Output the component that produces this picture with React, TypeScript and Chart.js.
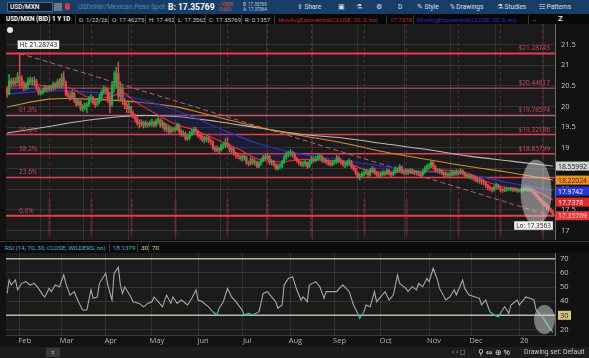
import React, { useEffect, useRef } from "react";
import { Chart, registerables } from "chart.js";
Chart.register(...registerables);

// ---------------- data ----------------
const FIRST_OPEN = 20.42;
// daily closes, 2025-01-24 .. 2026-01-23 (trading-day index 0..260)
const closes = [
  20.30, 20.62, 20.55, 20.62, 20.58, 20.72,
  20.68, 20.55, 20.45, 20.52, 20.62, 20.65, 20.60, 20.62, 20.45, 20.32, 20.34, 20.40, 20.45, 20.42, 20.48, 20.45, 20.55, 20.48, 20.60, 20.50,
  20.70, 20.60, 20.30, 20.25, 20.22, 20.32, 20.15, 20.05, 20.12, 19.95, 19.98, 20.02, 20.05, 20.18, 20.22, 20.10, 20.05, 20.12, 20.22, 20.35, 20.42,
  20.38, 20.20, 20.05, 20.50, 20.55, 20.80, 20.25, 20.45, 20.15, 20.05, 19.95, 20.00, 19.85, 19.78, 19.70, 19.60, 19.58, 19.62, 19.55, 19.60, 19.56, 19.60,
  19.62, 19.55, 19.65, 19.68, 19.55, 19.60, 19.45, 19.50, 19.40, 19.45, 19.44, 19.45, 19.55, 19.40, 19.32, 19.35, 19.22, 19.25, 19.35, 19.40, 19.45, 19.40,
  19.30, 19.28, 19.20, 19.22, 19.25, 19.18, 19.15, 19.00, 18.95, 18.98, 18.95, 19.05, 19.05, 19.12, 19.05, 18.95, 18.98, 18.88, 18.82, 18.80, 18.75,
  18.76, 18.80, 18.65, 18.62, 18.72, 18.65, 18.66, 18.55, 18.62, 18.70, 18.78, 18.75, 18.80, 18.65, 18.68, 18.60, 18.50, 18.55, 18.56, 18.65, 18.78, 18.85, 18.86,
  18.88, 18.85, 18.75, 18.70, 18.65, 18.60, 18.62, 18.65, 18.55, 18.65, 18.75, 18.70, 18.72, 18.78, 18.80, 18.70, 18.70, 18.66, 18.65, 18.60, 18.65,
  18.66, 18.76, 18.70, 18.66, 18.60, 18.60, 18.64, 18.68, 18.55, 18.50, 18.40, 18.30, 18.32, 18.36, 18.40, 18.42, 18.35, 18.45, 18.50, 18.40, 18.35, 18.34,
  18.36, 18.40, 18.38, 18.45, 18.38, 18.35, 18.40, 18.50, 18.45, 18.55, 18.42, 18.40, 18.45, 18.40, 18.45, 18.44, 18.40, 18.40, 18.38, 18.34, 18.42, 18.50, 18.55,
  18.56, 18.65, 18.55, 18.46, 18.45, 18.45, 18.40, 18.35, 18.36, 18.34, 18.36, 18.42, 18.36, 18.42, 18.40, 18.45, 18.40, 18.32, 18.32, 18.30,
  18.30, 18.28, 18.24, 18.20, 18.22, 18.18, 18.15, 18.10, 18.04, 18.02, 17.98, 18.05, 18.10, 18.04, 17.98, 17.97, 17.99, 18.00, 18.00, 18.02, 17.98, 18.00, 17.96,
  17.96, 17.98, 18.00, 18.02, 17.98, 17.99, 17.97, 17.90, 17.84, 17.78, 17.72, 17.66, 17.64, 17.58, 17.52, 17.46275, 17.35769,
];
const highs = [
  20.48, 20.78, 20.68, 20.70, 20.70, 20.82,
  21.29, 20.75, 20.62, 20.58, 20.70, 20.72, 20.70, 20.72, 20.66, 20.48, 20.40, 20.45, 20.52, 20.50, 20.52, 20.52, 20.60, 20.58, 20.66, 20.68,
  20.80, 20.85, 20.62, 20.38, 20.35, 20.40, 20.35, 20.18, 20.20, 20.15, 20.05, 20.08, 20.10, 20.25, 20.30, 20.25, 20.15, 20.20, 20.30, 20.40, 20.50,
  20.48, 20.45, 20.35, 20.60, 20.85, 20.95, 21.08, 20.60, 20.50, 20.20, 20.10, 20.10, 20.00, 19.90, 19.82, 19.75, 19.68, 19.68, 19.65, 19.66, 19.62, 19.66,
  19.70, 19.65, 19.70, 19.75, 19.72, 19.68, 19.62, 19.58, 19.55, 19.52, 19.50, 19.52, 19.60, 19.58, 19.45, 19.42, 19.38, 19.30, 19.40, 19.45, 19.50, 19.50,
  19.42, 19.35, 19.32, 19.28, 19.30, 19.28, 19.22, 19.18, 19.05, 19.05, 19.02, 19.10, 19.12, 19.22, 19.26, 19.10, 19.02, 19.00, 18.90, 18.88, 18.82,
  18.82, 18.85, 18.80, 18.68, 18.78, 18.75, 18.72, 18.68, 18.68, 18.75, 18.82, 18.85, 18.86, 18.82, 18.72, 18.70, 18.62, 18.60, 18.62, 18.70, 18.82, 18.90, 18.92,
  18.96, 18.92, 18.88, 18.78, 18.72, 18.68, 18.68, 18.70, 18.66, 18.70, 18.80, 18.78, 18.80, 18.84, 18.86, 18.82, 18.76, 18.74, 18.72, 18.68, 18.70,
  18.70, 18.82, 18.80, 18.74, 18.70, 18.66, 18.70, 18.74, 18.70, 18.58, 18.52, 18.42, 18.38, 18.42, 18.45, 18.48, 18.45, 18.50, 18.55, 18.52, 18.44, 18.40,
  18.42, 18.45, 18.44, 18.50, 18.48, 18.42, 18.46, 18.55, 18.52, 18.60, 18.56, 18.46, 18.50, 18.48, 18.50, 18.50, 18.46, 18.45, 18.44, 18.40, 18.48, 18.56, 18.60,
  18.62, 18.70, 18.68, 18.58, 18.50, 18.50, 18.48, 18.42, 18.42, 18.40, 18.42, 18.46, 18.44, 18.48, 18.46, 18.50, 18.47, 18.42, 18.36, 18.36,
  18.36, 18.34, 18.32, 18.28, 18.26, 18.25, 18.22, 18.18, 18.12, 18.08, 18.05, 18.08, 18.15, 18.12, 18.06, 18.02, 18.04, 18.03, 18.02, 18.05, 18.04, 18.04, 18.02,
  17.99, 18.02, 18.05, 18.06, 18.05, 18.04, 18.02, 17.99, 17.92, 17.86, 17.80, 17.74, 17.70, 17.66, 17.60, 17.55, 17.492,
];
const lows = [
  20.22, 20.28, 20.50, 20.52, 20.52, 20.55,
  20.45, 20.45, 20.38, 20.40, 20.42, 20.55, 20.52, 20.50, 20.40, 20.28, 20.28, 20.30, 20.35, 20.35, 20.38, 20.38, 20.40, 20.42, 20.45, 20.45,
  20.45, 20.50, 20.25, 20.20, 20.15, 20.18, 20.10, 20.00, 20.02, 19.90, 19.88, 19.92, 19.85, 20.00, 20.10, 20.05, 19.98, 20.02, 20.08, 20.15, 20.30,
  20.30, 20.10, 19.85, 20.00, 20.35, 20.45, 20.15, 20.15, 20.05, 19.95, 19.85, 19.85, 19.75, 19.72, 19.62, 19.55, 19.48, 19.52, 19.48, 19.50, 19.50, 19.52,
  19.52, 19.50, 19.52, 19.58, 19.50, 19.48, 19.40, 19.38, 19.35, 19.35, 19.38, 19.38, 19.42, 19.35, 19.28, 19.28, 19.18, 19.18, 19.20, 19.30, 19.35, 19.35,
  19.25, 19.20, 19.15, 19.12, 19.15, 19.12, 19.08, 18.95, 18.90, 18.90, 18.88, 18.92, 18.98, 19.00, 19.00, 18.90, 18.88, 18.82, 18.75, 18.74, 18.70,
  18.68, 18.70, 18.60, 18.56, 18.58, 18.60, 18.58, 18.52, 18.52, 18.58, 18.66, 18.70, 18.72, 18.60, 18.58, 18.55, 18.47, 18.46, 18.50, 18.52, 18.62, 18.72, 18.78,
  18.80, 18.78, 18.70, 18.65, 18.58, 18.55, 18.54, 18.55, 18.50, 18.52, 18.62, 18.65, 18.66, 18.70, 18.72, 18.65, 18.64, 18.60, 18.58, 18.55, 18.56,
  18.60, 18.62, 18.65, 18.60, 18.55, 18.52, 18.55, 18.58, 18.50, 18.45, 18.35, 18.26, 18.22, 18.28, 18.32, 18.35, 18.30, 18.32, 18.40, 18.36, 18.30, 18.28,
  18.30, 18.32, 18.32, 18.35, 18.34, 18.30, 18.32, 18.38, 18.40, 18.42, 18.38, 18.35, 18.36, 18.35, 18.38, 18.38, 18.35, 18.34, 18.32, 18.30, 18.32, 18.38, 18.45,
  18.48, 18.52, 18.50, 18.42, 18.40, 18.38, 18.35, 18.30, 18.30, 18.28, 18.30, 18.32, 18.32, 18.34, 18.34, 18.36, 18.35, 18.28, 18.28, 18.26,
  18.24, 18.22, 18.18, 18.16, 18.14, 18.12, 18.10, 18.04, 17.98, 17.96, 17.93, 17.95, 18.00, 18.00, 17.94, 17.92, 17.94, 17.95, 17.97, 17.96, 17.94, 17.95, 17.92,
  17.93, 17.92, 17.94, 17.96, 17.94, 17.94, 17.92, 17.86, 17.80, 17.74, 17.68, 17.62, 17.58, 17.52, 17.46, 17.42, 17.3563,
];

// moving averages, read at every 20th trading day
const maDays = [0, 20, 40, 60, 80, 100, 120, 140, 160, 180, 200, 220, 240, 260];
const maGrey = [19.36, 19.52, 19.68, 19.78, 19.76, 19.64, 19.48, 19.33, 19.24, 19.10, 18.96, 18.80, 18.68, 18.55992];
const maOrange = [19.99, 20.18, 20.18, 20.12, 20.00, 19.75, 19.50, 19.30, 19.12, 18.90, 18.72, 18.55, 18.40, 18.22024];
const maBlue = [20.30, 20.38, 20.35, 20.22, 19.92, 19.50, 19.10, 18.85, 18.70, 18.55, 18.42, 18.35, 18.15, 17.9742];
const emaDays = [0, 10, 20, 30, 40, 50, 55, 60, 70, 80, 90, 100, 110, 120, 130, 140, 150, 160, 170, 180, 190, 200, 210, 220, 230, 240, 250, 255, 260];
const ema20 = [20.45, 20.55, 20.48, 20.45, 20.20, 20.25, 20.35, 20.15, 19.85, 19.58, 19.42, 19.20, 18.98, 18.72, 18.66, 18.72, 18.70, 18.67, 18.48, 18.40, 18.42, 18.43, 18.46, 18.38, 18.15, 18.02, 17.98, 17.88, 17.7378];

const trendDays = [6, 260];
const trendValues = [21.29, 17.34];

const fibLevels = [21.28743, 20.44617, 19.78574, 19.32186, 18.85799, 18.28397, 17.3563];
const fibLeftLabels = ["", "", "61.8%", "50.0%", "38.2%", "23.6%", "0.0%"];
const fibRightLabels = ["$21.28743", "$20.44617", "$19.78574", "$19.32186", "$18.85799", "", ""];

const expiryDays = [20, 40, 59, 80, 105, 124, 145, 170, 190, 215, 235, 255];
const monthDays = [6, 26, 47, 69, 91, 112, 135, 156, 178, 201, 221, 244];
const monthLabels = ["Feb", "Mar", "Apr", "May", "Jun", "Jul", "Aug", "Sep", "Oct", "Nov", "Dec", "26"];
const priceTicks = [17, 17.5, 18, 18.5, 19, 19.5, 20, 20.5, 21, 21.5];

const markerValues = [18.55992, 18.22024, 17.9742, 17.7378, 17.35769];
const markerLabels = ["18.55992", "18.22024", "17.9742", "17.7378", "17.35769"];
const markerBg = ["#d2d2d2", "#ec8f25", "#2536d6", "#e02a2a", "#e03a3a"];
const markerFg = ["#1a1a1a", "#4a2200", "#ffffff", "#ffffff", "#ffe0e0"];

const rsiDays = [0, 1, 2, 4, 5, 7, 9, 11, 13, 15, 17, 18, 20, 21, 23, 25, 27, 28, 30, 32, 34, 36, 38, 40, 41, 43, 44, 47, 48, 50, 51, 53, 54, 55, 56, 59, 60, 63, 65, 67, 69, 70, 72, 74, 76, 78, 79, 81, 83, 86, 88, 90, 91, 93, 96, 98, 100, 101, 103, 105, 107, 109, 112, 113, 115, 117, 120, 122, 124, 126, 128, 129, 131, 132, 134, 136, 138, 140, 141, 143, 144, 147, 149, 151, 152, 155, 157, 159, 160, 163, 165, 167, 168, 170, 171, 173, 175, 176, 178, 180, 182, 184, 186, 187, 190, 191, 193, 195, 196, 198, 200, 201, 202, 203, 205, 206, 209, 211, 213, 214, 217, 218, 220, 223, 225, 226, 228, 230, 232, 234, 236, 237, 239, 240, 243, 244, 246, 247, 249, 251, 252, 255, 257, 258, 260];
const rsiValues = [45.5, 55, 51.4, 55, 48, 52.6, 53.8, 51.4, 52.6, 49, 44.3, 43, 49, 46.7, 51.4, 50.2, 58.5, 52.6, 44.3, 46.7, 39.6, 33.7, 33.7, 48, 42, 43, 52.6, 59.7, 51.4, 40.8, 59.7, 63.9, 51.4, 45.5, 50.2, 43, 39.6, 38.4, 36, 38.4, 39.6, 43, 39.6, 36, 44.3, 38.4, 43, 38.4, 40.8, 37.3, 42, 48, 40.8, 39.6, 36, 32.5, 30.2, 35, 39.6, 49, 43, 39.6, 33.7, 30.2, 31.4, 30.2, 32.5, 45.5, 46.7, 43, 39.6, 35, 37.3, 51.4, 56.1, 57.3, 48, 40.8, 43, 39.6, 51.4, 53.8, 50.2, 42, 46.7, 46.7, 46.7, 50.2, 51.4, 46.7, 37.3, 31.4, 27.9, 32.5, 37.3, 36, 46.7, 39.6, 43, 46.7, 40.8, 44.3, 58.5, 52.6, 49, 46.7, 50.2, 48, 52.6, 50.2, 56.1, 53.8, 58.5, 63.2, 55, 49, 40.8, 43, 48, 44.3, 55, 49, 44.3, 43, 42, 37.3, 40.8, 32.5, 30.2, 29, 33.7, 36, 31.4, 37.3, 40.8, 37.3, 40.8, 43, 42, 40.8, 33.7, 29, 24.3, 22, 18.1379];
const rsiTicks = [20, 30, 40, 50, 60, 70];
const rsiLevels = [70, 30];

// ---------------- component ----------------
const FONT = '"Open Sans", "DejaVu Sans", sans-serif';
const UI = 'Roboto, "Open Sans", sans-serif';
const X_MIN = -0.5;
const X_MAX = 261;

export default function App() {
  const priceRef = useRef<HTMLCanvasElement>(null);
  const rsiRef = useRef<HTMLCanvasElement>(null);

  useEffect(() => {
    document.body.style.margin = "0";
    document.body.style.background = "#121212";
    Chart.defaults.font.family = FONT;

    const opens = closes.map((c, i) => (i === 0 ? FIRST_OPEN : closes[i - 1]));
    const idx = closes.map((_, i) => i);
    const up = "#21ad45";
    const down = "#e8434e";
    const candleColor = (c: any) => (closes[c.dataIndex] >= opens[c.dataIndex] ? up : down);
    const hline = (v: number) => [{ x: X_MIN, y: v }, { x: X_MAX, y: v }];
    const pts = (days: number[], vals: number[]) => days.map((d, k) => ({ x: d, y: vals[k] }));

    const bgPlugin = {
      id: "plotBg",
      beforeDraw(chart: any) {
        const { ctx, chartArea: a } = chart;
        ctx.save();
        ctx.fillStyle = "#1b1b1b";
        ctx.fillRect(a.left, a.top, a.right - a.left, a.bottom - a.top);
        ctx.restore();
      },
    };

    const expiryPlugin = {
      id: "expiry",
      beforeDatasetsDraw(chart: any) {
        const { ctx, chartArea: a, scales } = chart;
        ctx.save();
        expiryDays.forEach((d) => {
          const x = Math.round(scales.x.getPixelForValue(d)) + 0.5;
          ctx.strokeStyle = "rgba(140,38,52,0.75)";
          ctx.lineWidth = 1;
          ctx.setLineDash([3, 3]);
          ctx.beginPath();
          ctx.moveTo(x, a.top);
          ctx.lineTo(x, a.bottom);
          ctx.stroke();
          ctx.setLineDash([]);
          ctx.fillStyle = "rgba(170,45,58,0.28)";
          const y1 = scales.y.getPixelForValue(17.75);
          const y2 = scales.y.getPixelForValue(16.9);
          ctx.fillRect(x - 1.5, y1, 3, y2 - y1);
        });
        ctx.restore();
      },
    };

    const bubble = (ctx: any, text: string, x: number, y: number, alignRight: boolean) => {
      ctx.font = `6.5px ${FONT}`;
      const w = ctx.measureText(text).width + 4;
      const left = alignRight ? x - w : x;
      ctx.fillStyle = "#f2f2f2";
      ctx.fillRect(left, y, w, 8.5);
      ctx.fillStyle = "#222";
      ctx.textAlign = "left";
      ctx.fillText(text, left + 2, y + 6.5);
    };

    const annotPlugin = {
      id: "annot",
      afterDatasetsDraw(chart: any) {
        const { ctx, chartArea: a, scales } = chart;
        const xs = scales.x;
        const ys = scales.y;
        ctx.save();
        ctx.font = `6.5px ${FONT}`;
        fibLevels.forEach((v, k) => {
          const y = ys.getPixelForValue(v);
          if (fibLeftLabels[k]) {
            ctx.fillStyle = "#d24a5e";
            ctx.textAlign = "left";
            ctx.fillText(fibLeftLabels[k], 19, y - 3);
          }
          if (fibRightLabels[k]) {
            ctx.fillStyle = "#d24a5e";
            ctx.textAlign = "right";
            ctx.fillText(fibRightLabels[k], 550, y - 3);
          }
        });
        bubble(ctx, "Hi: 21.28743", xs.getPixelForValue(6) - 2, ys.getPixelForValue(fibLevels[0]) - 13, false);
        ctx.fillStyle = "rgba(215,215,215,0.5)";
        ctx.beginPath();
        ctx.ellipse(xs.getPixelForValue(252), ys.getPixelForValue(17.92), 15.5, 33, 0, 0, Math.PI * 2);
        ctx.fill();
        bubble(ctx, "Lo: 17.3563", xs.getPixelForValue(260), ys.getPixelForValue(fibLevels[6]) + 5.5, true);
        let prev = -100;
        ctx.font = `6.8px ${FONT}`;
        markerValues.forEach((v, k) => {
          let y = ys.getPixelForValue(v);
          if (y < prev + 11) y = prev + 11;
          prev = y;
          ctx.fillStyle = markerBg[k];
          ctx.fillRect(a.right + 1, y - 4.5, 33, 9);
          ctx.fillStyle = markerFg[k];
          ctx.textAlign = "left";
          ctx.fillText(markerLabels[k], a.right + 3, y + 2.5);
        });
        ctx.restore();
      },
    };

    const price = new Chart(priceRef.current as HTMLCanvasElement, {
      type: "line",
      data: {
        datasets: [
          {
            type: "bar",
            label: "body",
            data: idx.map((i) => ({ x: i, y: [opens[i], closes[i]] })),
            backgroundColor: candleColor,
            barThickness: 1.7,
            grouped: false,
            minBarLength: 1,
            order: 1,
          } as any,
          {
            type: "bar",
            label: "wick",
            data: idx.map((i) => ({ x: i, y: [lows[i], highs[i]] })),
            backgroundColor: candleColor,
            barThickness: 0.8,
            grouped: false,
            order: 2,
          } as any,
          {
            label: "EMA20",
            data: pts(emaDays, ema20),
            borderColor: "#ec2f38",
            borderWidth: 1.1,
            pointRadius: 0,
            tension: 0.35,
            order: 3,
          },
          {
            label: "blue",
            data: pts(maDays, maBlue),
            borderColor: "#2b35c8",
            borderWidth: 1.1,
            pointRadius: 0,
            tension: 0.35,
            fill: { target: 2 },
            backgroundColor: "rgba(35,35,150,0.22)",
            order: 4,
          },
          {
            label: "orange",
            data: pts(maDays, maOrange),
            borderColor: "#d98a2a",
            borderWidth: 1.1,
            pointRadius: 0,
            tension: 0.35,
            order: 4,
          },
          {
            label: "grey",
            data: pts(maDays, maGrey),
            borderColor: "#b9b9b9",
            borderWidth: 1.1,
            pointRadius: 0,
            tension: 0.35,
            order: 4,
          },
          {
            label: "trend",
            data: pts(trendDays, trendValues),
            borderColor: "#c65a78",
            borderWidth: 1,
            borderDash: [5, 3],
            pointRadius: 0,
            order: 5,
          },
          ...fibLevels.map((v, k) => ({
            label: "fib" + k,
            data: hline(v),
            borderColor: k === 0 || k === 6 ? "#ea3a4c" : k === 1 || k === 2 ? "#c05a6e" : "#dc4256",
            borderWidth: k === 0 || k === 6 ? 2 : k === 1 ? 1 : 1.5,
            pointRadius: 0,
            order: 6,
          })),
        ],
      },
      options: {
        responsive: false,
        animation: false,
        events: [],
        layout: { padding: { left: 6, right: 0, top: 0, bottom: 0 } },
        plugins: { legend: { display: false }, tooltip: { enabled: false } },
        scales: {
          x: {
            type: "linear",
            min: X_MIN,
            max: X_MAX,
            offset: false,
            afterBuildTicks: (s: any) => {
              s.ticks = monthDays.map((v) => ({ value: v }));
            },
            ticks: { display: false },
            grid: { color: "rgba(255,255,255,0.10)", drawTicks: false },
            border: { display: false },
            afterFit: (s: any) => {
              s.height = 0;
            },
          },
          y: {
            position: "right",
            min: 16.77,
            max: 22.0,
            stacked: false,
            afterBuildTicks: (s: any) => {
              s.ticks = priceTicks.map((v) => ({ value: v }));
            },
            ticks: {
              color: "#c4c4c4",
              font: { size: 7.5, family: FONT },
              padding: 6,
              callback: (v: any) => (Number(v) % 1 === 0 ? String(v) : Number(v).toFixed(1)),
            },
            grid: { color: "rgba(255,255,255,0.10)", drawTicks: false },
            border: { display: true, color: "#6a6a6a" },
            afterFit: (s: any) => {
              s.width = 34;
              s.paddingTop = 0;
              s.paddingBottom = 0;
            },
          },
        },
      } as any,
      plugins: [bgPlugin, expiryPlugin, annotPlugin],
    });

    const rsiAnnot = {
      id: "rsiAnnot",
      afterDraw(chart: any) {
        const { ctx, chartArea: a, scales } = chart;
        ctx.save();
        ctx.fillStyle = "rgba(215,215,215,0.5)";
        ctx.beginPath();
        ctx.ellipse(scales.x.getPixelForValue(256), scales.y.getPixelForValue(27), 10.5, 14.5, 0, 0, Math.PI * 2);
        ctx.fill();
        const y30 = scales.y.getPixelForValue(30);
        ctx.fillStyle = "#d9c487";
        ctx.fillRect(a.right + 3, y30 - 4.5, 13, 9);
        ctx.fillStyle = "#2a2200";
        ctx.font = `7.5px ${FONT}`;
        ctx.textAlign = "left";
        ctx.fillText("30", a.right + 5, y30 + 2.7);
        ctx.restore();
      },
    };

    const rsi = new Chart(rsiRef.current as HTMLCanvasElement, {
      type: "line",
      data: {
        datasets: [
          {
            label: "RSI",
            data: pts(rsiDays, rsiValues),
            borderColor: "#a8a8a8",
            borderWidth: 1.1,
            pointRadius: 0,
            segment: {
              borderColor: (c: any) => (Math.min(c.p0.parsed.y, c.p1.parsed.y) < 30.5 ? "#39c6c9" : undefined),
            },
            order: 1,
          } as any,
          ...rsiLevels.map((v) => ({
            label: "lvl" + v,
            data: hline(v),
            borderColor: "#bdb9a0",
            borderWidth: 1.5,
            pointRadius: 0,
            order: 2,
          })),
        ],
      },
      options: {
        responsive: false,
        animation: false,
        events: [],
        layout: { padding: { left: 6, right: 0, top: 0, bottom: 0 } },
        plugins: { legend: { display: false }, tooltip: { enabled: false } },
        scales: {
          x: {
            type: "linear",
            min: X_MIN,
            max: X_MAX,
            offset: false,
            afterBuildTicks: (s: any) => {
              s.ticks = monthDays.map((v) => ({ value: v }));
            },
            ticks: {
              autoSkip: false,
              maxRotation: 0,
              color: "#b4b4b4",
              font: { size: 7.5, family: FONT },
              padding: 1,
              labelOffset: 5,
              callback: (v: any) => {
                const k = monthDays.indexOf(Number(v));
                return k >= 0 ? monthLabels[k] : "";
              },
            },
            grid: { color: "rgba(255,255,255,0.10)", drawTicks: false },
            border: { display: true, color: "#3a3a3a" },
            afterFit: (s: any) => {
              s.height = 12;
              s.paddingLeft = 0;
              s.paddingRight = 0;
            },
          },
          y: {
            position: "right",
            min: 16.08,
            max: 74.03,
            afterBuildTicks: (s: any) => {
              s.ticks = rsiTicks.map((v) => ({ value: v }));
            },
            ticks: { color: "#c4c4c4", font: { size: 7.5, family: FONT }, padding: 5 },
            grid: { color: "rgba(255,255,255,0.10)", drawTicks: false },
            border: { display: true, color: "#6a6a6a" },
            afterFit: (s: any) => {
              s.width = 34;
              s.paddingTop = 0;
              s.paddingBottom = 0;
            },
          },
        },
      } as any,
      plugins: [bgPlugin, rsiAnnot],
    });

    return () => {
      price.destroy();
      rsi.destroy();
    };
  }, []);

  const abs = (l: number, t: number, extra: any = {}) => ({ position: "absolute" as const, left: l, top: t, whiteSpace: "nowrap" as const, ...extra });
  const infoBox = { borderLeft: "1px solid #3a3a3a", height: 9, lineHeight: "9px", color: "#c8c8c8", fontSize: 6, fontFamily: UI, paddingLeft: 3 };
  const tb = { color: "#d8e2ec", fontSize: 6.5, lineHeight: "10px", fontFamily: UI };
  const rsiHead = { fontSize: 6.2, lineHeight: "8px", fontFamily: UI };

  return (
    <div style={{ position: "relative", width: 589, height: 358, background: "#121212", overflow: "hidden", fontFamily: FONT }}>
      {/* top toolbar */}
      <div style={abs(0, 0, { width: 589, height: 14, background: "#173e66" })} />
      <div style={abs(7, 2, { width: 46, height: 10, background: "#0f1c2a", border: "1px solid #4a6888", boxSizing: "border-box" })} />
      <div style={abs(10, 2, { color: "#e8eef4", fontSize: 6.5, lineHeight: "10px", fontWeight: 600, fontFamily: UI })}>USD/MXN</div>
      <div style={abs(54, 3, { width: 8, height: 8, background: "#6c7a88" })} />
      <div style={abs(65, 3, { width: 5, height: 7, background: "#d83a3a", borderRadius: 2 })} />
      <div style={abs(78, 2, { color: "#5e86ad", fontSize: 6.8, lineHeight: "10px", fontFamily: UI })}>USDollar/Mexican Peso Spot</div>
      <div style={abs(168, 1, { color: "#ffffff", fontSize: 8.5, lineHeight: "12px", fontWeight: 700, fontFamily: UI })}>B: 17.35769</div>
      <div style={abs(218, 1.5, { color: "#e05050", fontSize: 4.5, lineHeight: "5.5px", fontFamily: UI })}>-.10506<br />-0.60%</div>
      <div style={abs(243, 1.5, { color: "#c0d0e0", fontSize: 4.5, lineHeight: "5.5px", fontFamily: UI })}>B: 17.35769<br />A: 17.37064</div>
      <div style={abs(297, 2, tb)}>⇪ Share</div>
      <div style={abs(338, 2, tb)}>▣</div>
      <div style={abs(356, 2, tb)}>⚗</div>
      <div style={abs(376, 2, tb)}>⚙</div>
      <div style={abs(398, 2, tb)}>D</div>
      <div style={abs(417, 2, tb)}>✎ Style</div>
      <div style={abs(450, 2, tb)}>% Drawings</div>
      <div style={abs(497, 2, tb)}>⚗ Studies</div>
      <div style={abs(539, 2, tb)}>☷ Patterns</div>

      {/* info strip */}
      <div style={abs(0, 14, { width: 589, height: 10, background: "#070707" })} />
      <div style={abs(6, 14.5, { color: "#ffffff", fontSize: 6.3, lineHeight: "9px", fontWeight: 700, fontFamily: UI })}>USD/MXN (BID) 1 Y 1D</div>
      <div style={abs(75, 14.5, infoBox)}>D: 1/23/26</div>
      <div style={abs(108, 14.5, infoBox)}>O: 17.46275</div>
      <div style={abs(145, 14.5, infoBox)}>H: 17.492</div>
      <div style={abs(174, 14.5, infoBox)}>L: 17.3563</div>
      <div style={abs(205, 14.5, infoBox)}>C: 17.35769</div>
      <div style={abs(241, 14.5, infoBox)}>R: 0.1357</div>
      <div style={abs(274, 14.5, { ...infoBox, color: "#c0282c" })}>MovAvgExponential(CLOSE, 20, 0, no)</div>
      <div style={abs(386, 14.5, { ...infoBox, color: "#c0282c" })}>17.7378</div>
      <div style={abs(413, 14.5, { ...infoBox, color: "#2a2ec0" })}>MovAvgExponential(CLOSE, 50, 0, no)</div>
      <div style={abs(528, 14.5, { ...infoBox, color: "#777" })}>—</div>
      <div style={abs(558, 13.5, { color: "#e0e0e0", fontSize: 8, lineHeight: "10px", fontWeight: 700, fontFamily: UI })}>Z</div>

      {/* price panel */}
      <canvas ref={priceRef} width={589} height={216} style={{ position: "absolute", left: 0, top: 24 }} />
      <div style={abs(7, 27, { width: 6, height: 6, borderRadius: 3, background: "#e8e8e8" })} />

      {/* separator + RSI header */}
      <div style={abs(0, 240, { width: 589, height: 13, background: "#0b0b0b" })} />
      <div style={abs(0, 241, { width: 589, height: 1, background: "#3c3c3c" })} />
      <div style={abs(5, 244, { ...rsiHead, color: "#3cb6c6" })}>RSI (14, 70, 30, CLOSE, WILDERS, no)</div>
      <div style={abs(109, 244, { ...rsiHead, color: "#3cb6c6", borderLeft: "1px solid #3a3a3a", paddingLeft: 3 })}>18.1379</div>
      <div style={abs(137, 244, { ...rsiHead, color: "#ddd4a8", borderLeft: "1px solid #3a3a3a", paddingLeft: 3 })}>30</div>
      <div style={abs(148, 244, { ...rsiHead, color: "#ddd4a8", borderLeft: "1px solid #3a3a3a", paddingLeft: 3 })}>70</div>

      {/* RSI panel */}
      <canvas ref={rsiRef} width={589} height={94} style={{ position: "absolute", left: 0, top: 253 }} />

      {/* bottom bar */}
      <div style={abs(0, 347, { width: 589, height: 11, background: "#1d1d1d" })} />
      <div style={abs(46, 347.5, { width: 14, height: 9, background: "#3a3a3a", color: "#ddd", fontSize: 6, lineHeight: "9px", textAlign: "center" })}>⌅</div>
      <div style={abs(452, 347, { color: "#aaa", fontSize: 7, lineHeight: "10px" })}>‹ › ◻</div>
      <div style={abs(478, 346.5, { color: "#e0e0e0", fontSize: 8, lineHeight: "10px" })}>⚲ ⇔ ⊕ %</div>
      <div style={abs(524, 347, { color: "#c8c8c8", fontSize: 6.8, lineHeight: "10px", fontFamily: UI })}>Drawing set: Default</div>
    </div>
  );
}
